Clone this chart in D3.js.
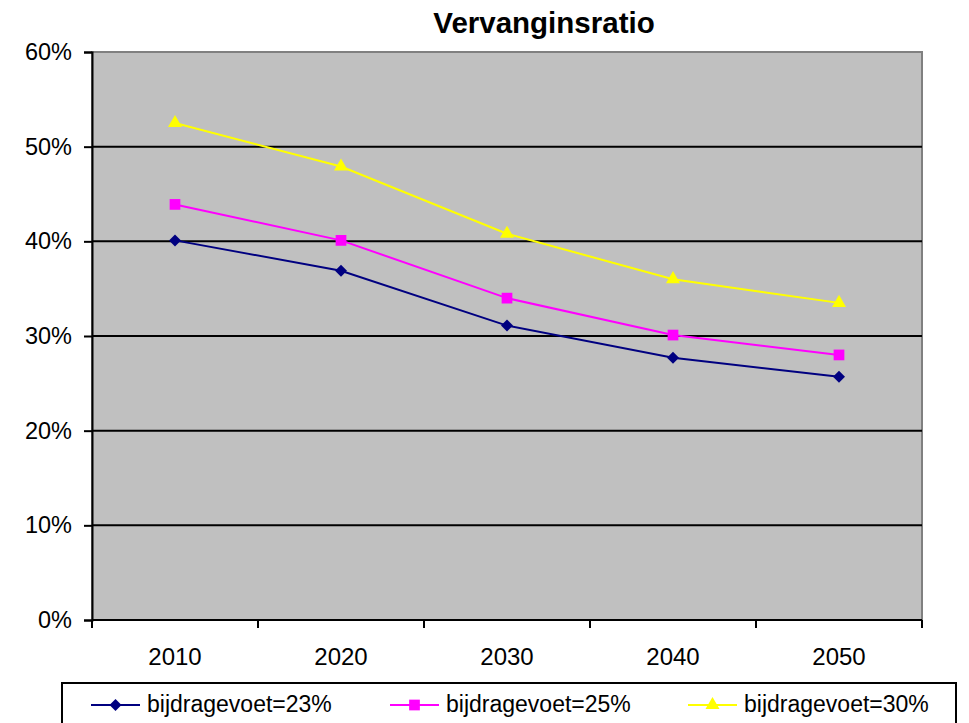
<!DOCTYPE html>
<html>
<head>
<meta charset="utf-8">
<script src="https://cdn.jsdelivr.net/npm/d3@7"></script>
<style>
  body { margin: 0; background: #fff; }
  svg { font-family: "Liberation Sans", Arial, sans-serif; }
</style>
</head>
<body>
<div id="content"></div>
<script>
// data
var years = ["2010", "2020", "2030", "2040", "2050"];
var seriesNames = ["bijdragevoet=23%", "bijdragevoet=25%", "bijdragevoet=30%"];
var rate23 = [0.401, 0.369, 0.311, 0.277, 0.257];
var rate25 = [0.439, 0.401, 0.340, 0.301, 0.280];
var rate30 = [0.525, 0.479, 0.408, 0.360, 0.335];
var yTicks = [0, 0.1, 0.2, 0.3, 0.4, 0.5, 0.6];

(() => {
    var W = 969, H = 723;
    var margin = { top: 52, right: 47, bottom: 103, left: 92 };
    var width = W - margin.left - margin.right;
    var height = H - margin.top - margin.bottom;

    var colors = ["#000080", "#FF00FF", "#FFFF00"];
    // diamond = square turned 45 degrees
    var symbols = [d3.symbolSquare, d3.symbolSquare, d3.symbolTriangle];
    var symSize = [72, 115, 85];
    var symRot = [45, 0, 0];
    var allSeries = [rate23, rate25, rate30];

    var svg = d3.select("#content").append("svg")
        .attr("width", W)
        .attr("height", H);

    svg.append("text")
        .attr("x", 544)
        .attr("y", 33)
        .attr("text-anchor", "middle")
        .style("font-weight", "bold")
        .style("font-size", "29.5px")
        .text("Vervanginsratio");

    var g = svg.append("g")
        .attr("transform", "translate(" + margin.left + "," + margin.top + ")");

    var x = d3.scaleBand().domain(years).range([0, width]);
    var y = d3.scaleLinear().domain([0, 0.6]).range([height, 0]);

    // plot background
    g.append("rect")
        .attr("width", width)
        .attr("height", height)
        .attr("fill", "#C0C0C0")
        .attr("stroke", "#808080")
        .attr("stroke-width", 2);

    // gridlines
    g.selectAll(".grid")
        .data(yTicks.filter(function (d) { return d > 0 && d < 0.6; }))
        .enter().append("line")
        .attr("x1", 0)
        .attr("x2", width)
        .attr("y1", function (d) { return y(d); })
        .attr("y2", function (d) { return y(d); })
        .attr("stroke", "#000")
        .attr("stroke-width", 2);

    // y axis
    var yAxis = d3.axisLeft(y).tickValues(yTicks).tickFormat(d3.format(".0%")).tickSizeOuter(0).tickSize(8).tickPadding(12);
    var ya = g.append("g").call(yAxis);
    ya.select(".domain").attr("stroke-width", 2);
    ya.selectAll(".tick line").attr("stroke-width", 2);
    ya.selectAll("text").style("font-size", "23.5px").attr("fill", "#000");

    // x axis, ticks at band edges
    var edges = years.map(function (d) { return x(d); }).concat([width]);
    var xa = g.append("g").attr("transform", "translate(0," + height + ")");
    xa.append("line").attr("x1", 0).attr("x2", width).attr("stroke", "#000").attr("stroke-width", 2);
    xa.selectAll(".xt").data(edges).enter().append("line")
        .attr("x1", function (d) { return d; })
        .attr("x2", function (d) { return d; })
        .attr("y1", 0).attr("y2", 8)
        .attr("stroke", "#000").attr("stroke-width", 2);
    xa.selectAll(".xl").data(years).enter().append("text")
        .attr("x", function (d) { return x(d) + x.bandwidth() / 2; })
        .attr("y", 45)
        .attr("text-anchor", "middle")
        .style("font-size", "24px")
        .text(function (d) { return d; });

    var line = d3.line()
        .x(function (d, i) { return x(years[i]) + x.bandwidth() / 2; })
        .y(function (d) { return y(d); });

    allSeries.forEach(function (s, k) {
        g.append("path")
            .datum(s)
            .attr("fill", "none")
            .attr("stroke", colors[k])
            .attr("stroke-width", 2)
            .attr("d", line);
        g.selectAll(".m" + k).data(s).enter().append("path")
            .attr("transform", function (d, i) {
                return "translate(" + (x(years[i]) + x.bandwidth() / 2) + "," + y(d) + ") rotate(" + symRot[k] + ")";
            })
            .attr("d", d3.symbol().type(symbols[k]).size(symSize[k]))
            .attr("fill", colors[k]);
    });

    // legend
    var legend = svg.append("g").attr("transform", "translate(62,683)");
    legend.append("rect")
        .attr("width", 894)
        .attr("height", 44)
        .attr("fill", "#fff")
        .attr("stroke", "#000")
        .attr("stroke-width", 2);
    var itemX = [29, 328, 626];
    seriesNames.forEach(function (name, k) {
        var it = legend.append("g").attr("transform", "translate(" + itemX[k] + ",22)");
        it.append("line").attr("x1", 0).attr("x2", 49).attr("stroke", colors[k]).attr("stroke-width", 2);
        it.append("path")
            .attr("transform", "translate(24.5,0) rotate(" + symRot[k] + ")")
            .attr("d", d3.symbol().type(symbols[k]).size(symSize[k]))
            .attr("fill", colors[k]);
        it.append("text")
            .attr("x", 56)
            .attr("y", 7)
            .style("font-size", "23px")
            .text(name);
    });
})();
</script>
</body>
</html>
